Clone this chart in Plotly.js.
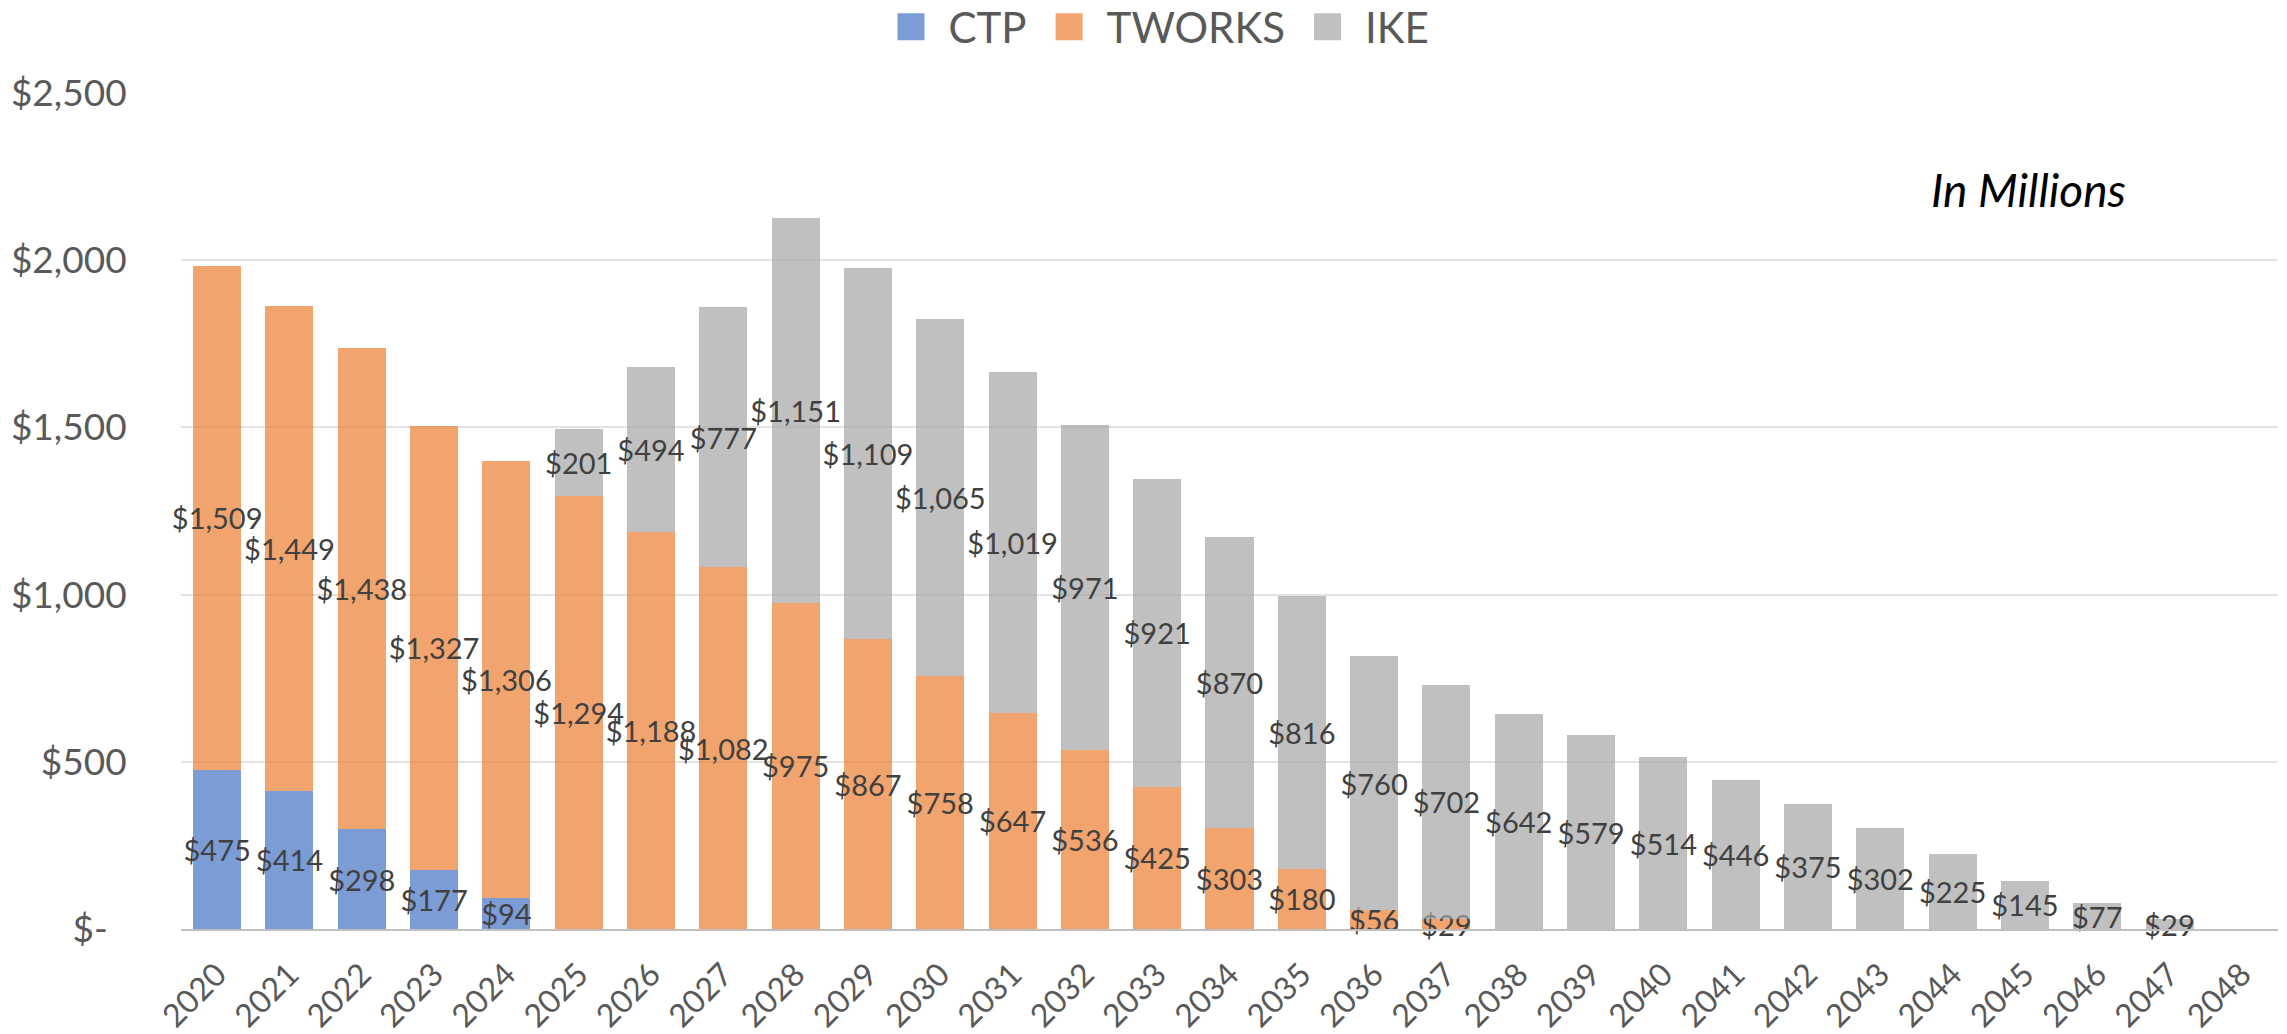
<!DOCTYPE html>
<html>
<head>
<meta charset="utf-8">
<script src="https://cdn.plot.ly/plotly-3.0.1.min.js"></script>
<style>
  html, body { margin: 0; padding: 0; background: #ffffff; }
  #chart { width: 2287px; height: 1034px; }
</style>
</head>
<body>
<div id="chart"></div>
<script>
const years = ['2020','2021','2022','2023','2024','2025','2026','2027','2028','2029',
               '2030','2031','2032','2033','2034','2035','2036','2037','2038','2039',
               '2040','2041','2042','2043','2044','2045','2046','2047','2048'];

const ctp    = [475, 414, 298, 177, 94, 0, 0, 0, 0, 0,
                0, 0, 0, 0, 0, 0, 0, 0, 0, 0,
                0, 0, 0, 0, 0, 0, 0, 0, 0];
const tworks = [1509, 1449, 1438, 1327, 1306, 1294, 1188, 1082, 975, 867,
                758, 647, 536, 425, 303, 180, 56, 29, 0, 0,
                0, 0, 0, 0, 0, 0, 0, 0, 0];
const ike    = [0, 0, 0, 0, 0, 201, 494, 777, 1151, 1109,
                1065, 1019, 971, 921, 870, 816, 760, 702, 642, 579,
                514, 446, 375, 302, 225, 145, 77, 29, 0];

const yTickVals = [0, 500, 1000, 1500, 2000, 2500];
const yTickText = ['$-\u00a0\u00a0', '$500', '$1,000', '$1,500', '$2,000', '$2,500'];

const seriesNames = ['CTP', 'TWORKS', 'IKE'];
const seriesColors = ['#4472C4', '#ED7D31', '#A5A5A5'];

const FONT = 'Lato, "Open Sans", sans-serif';

function labels(arr) {
  return arr.map(v => v ? '$' + v.toLocaleString('en-US') : '');
}

const seriesData = [ctp, tworks, ike];
const traces = seriesData.map((vals, i) => ({
  type: 'bar',
  name: seriesNames[i],
  x: years,
  y: vals,
  text: labels(vals),
  textposition: 'inside',
  insidetextanchor: 'middle',
  textangle: 0,
  constraintext: 'none',
  cliponaxis: false,
  textfont: { family: FONT, size: 29, color: '#404040' },
  insidetextfont: { family: FONT, size: 29, color: '#404040' },
  marker: { color: seriesColors[i], opacity: 0.7, line: { width: 0 } },
  hoverinfo: 'skip'
}));

const layout = {
  width: 2287,
  height: 1034,
  barmode: 'stack',
  bargap: 0.336,
  paper_bgcolor: '#ffffff',
  plot_bgcolor: '#ffffff',
  margin: { l: 181, r: 9, t: 93, b: 105, pad: 0, autoexpand: false },
  font: { family: FONT, color: '#595959' },
  showlegend: true,
  legend: {
    orientation: 'h',
    x: 0.464, xanchor: 'center',
    y: 1.079, yanchor: 'middle',
    font: { family: FONT, size: 42, color: '#595959' },
    itemwidth: 65,
    traceorder: 'normal',
    bgcolor: 'rgba(0,0,0,0)'
  },
  xaxis: {
    type: 'category',
    tickangle: -45,
    tickfont: { family: FONT, size: 32, color: '#595959' },
    showline: true,
    linecolor: '#bfbfbf',
    linewidth: 2,
    showgrid: false,
    ticks: 'outside',
    ticklen: 12,
    tickcolor: 'rgba(0,0,0,0)',
    fixedrange: true
  },
  yaxis: {
    range: [0, 2500],
    tickvals: yTickVals,
    ticktext: yTickText,
    tickfont: { family: FONT, size: 37, color: '#595959' },
    showgrid: true,
    gridcolor: '#e3e3e3',
    gridwidth: 2,
    zeroline: false,
    showline: false,
    ticks: 'outside',
    ticklen: 46,
    tickcolor: 'rgba(0,0,0,0)',
    fixedrange: true
  },
  annotations: [{
    text: 'In Millions',
    xref: 'paper', yref: 'paper',
    x: 0.8335, xanchor: 'left',
    y: 0.884, yanchor: 'middle',
    showarrow: false,
    font: { family: FONT, size: 46, color: '#000000', style: 'italic' }
  }]
};

Plotly.newPlot('chart', traces, layout, { displayModeBar: false, staticPlot: true }).then(gd => {
  // enlarge legend swatches to match the reference's square markers
  gd.querySelectorAll('.legend .legendpoints path').forEach(p => {
    p.setAttribute('d', 'M13.5,13.5H-13.5V-13.5H13.5Z');
    p.style.opacity = '0.7';
  });
});
</script>
</body>
</html>
